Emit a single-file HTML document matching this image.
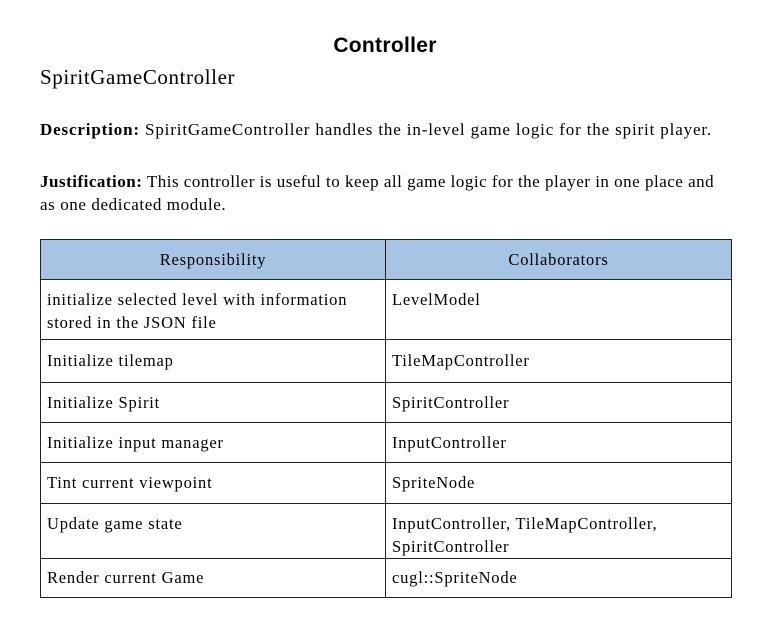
<!DOCTYPE html>
<html><head><meta charset="utf-8"><style>
body{margin:0;width:768px;height:630px;background:#fff;position:relative;overflow:hidden;font-family:"Liberation Serif",serif;color:#000}
.a{position:absolute;white-space:nowrap}
.title{left:0;width:770px;text-align:center;top:34px;font-family:"Liberation Sans",sans-serif;font-weight:bold;font-size:21px;letter-spacing:0.3px}
.t{font-size:17px;letter-spacing:0.7px}
table{position:absolute;left:40px;top:239px;width:692px;border-collapse:collapse;font-size:16.5px;letter-spacing:0.8px;table-layout:fixed}
td{border:1.5px solid #222;padding:0 6px;vertical-align:top;line-height:23px;overflow:hidden}
th{border:1.5px solid #222;background:#a8c4e4;font-weight:normal;height:37px;font-size:16.5px}
</style></head><body>
<div class="a title">Controller</div>
<div class="a" style="left:40px;top:65px;font-size:21px;letter-spacing:0.6px">SpiritGameController</div>
<div class="a t" style="left:40px;top:120px;letter-spacing:0.85px"><b>Description:</b> SpiritGameController handles the in-level game logic for the spirit player.</div>
<div class="a t" style="left:40px;top:172px;letter-spacing:0.5px"><b>Justification:</b> This controller is useful to keep all game logic for the player in one place and</div>
<div class="a t" style="left:40px;top:195px;letter-spacing:0.6px">as one dedicated module.</div>
<table>
<colgroup><col style="width:345px"><col></colgroup>
<tr><th>Responsibility</th><th>Collaborators</th></tr>
<tr style="height:60px"><td style="padding-top:8px">initialize selected level with information<br>stored in the JSON file</td><td style="padding-top:8px">LevelModel</td></tr>
<tr style="height:43px"><td style="padding-top:9px">Initialize tilemap</td><td style="padding-top:9px">TileMapController</td></tr>
<tr style="height:40px"><td style="padding-top:8px">Initialize Spirit</td><td style="padding-top:8px">SpiritController</td></tr>
<tr style="height:40px"><td style="padding-top:8px">Initialize input manager</td><td style="padding-top:8px">InputController</td></tr>
<tr style="height:41px"><td style="padding-top:8px">Tint current viewpoint</td><td style="padding-top:8px">SpriteNode</td></tr>
<tr style="height:55px"><td style="padding-top:8px">Update game state</td><td style="padding-top:8px">InputController, TileMapController,<br>SpiritController</td></tr>
<tr style="height:39px"><td style="padding-top:7px">Render current Game</td><td style="padding-top:7px">cugl::SpriteNode</td></tr>
</table>
</body></html>
